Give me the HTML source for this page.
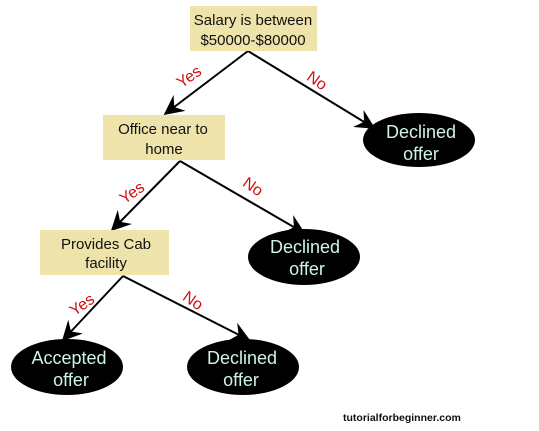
<!DOCTYPE html>
<html><head><style>
body{margin:0;background:#fff;}
svg{display:block;}
.b{font-family:"Liberation Sans",sans-serif;font-size:15px;fill:#111;}
.e{font-family:"Liberation Sans",sans-serif;font-size:18px;fill:#cdf3ea;}
.r{font-family:"Liberation Sans",sans-serif;font-size:16px;fill:#d01010;}
</style></head><body>
<svg width="539" height="431" viewBox="0 0 539 431">
<defs>
<marker id="m" viewBox="0 0 12 12" refX="11" refY="6" markerWidth="20" markerHeight="20" orient="auto" markerUnits="userSpaceOnUse"><path d="M0,0 L12,6 L0,12 L4,6 z" fill="#000"/></marker></defs>
<g stroke="#000" stroke-width="2" fill="none">
<line x1="248" y1="51" x2="165" y2="114" marker-end="url(#m)"/>
<line x1="248" y1="51" x2="374" y2="128" marker-end="url(#m)"/>
<line x1="180" y1="161" x2="112" y2="230" marker-end="url(#m)"/>
<line x1="180" y1="161" x2="304" y2="233" marker-end="url(#m)"/>
<line x1="123" y1="276" x2="63" y2="340" marker-end="url(#m)"/>
<line x1="123" y1="276" x2="249" y2="340" marker-end="url(#m)"/>
</g>
<rect x="190" y="6" width="127" height="45" fill="#efe3ac"/>
<text class="b" x="253" y="25" text-anchor="middle">Salary is between</text>
<text class="b" x="253" y="45" text-anchor="middle">$50000-$80000</text>
<rect x="103" y="115" width="122" height="45" fill="#efe3ac"/>
<text class="b" x="163" y="134" text-anchor="middle">Office near to</text>
<text class="b" x="164" y="154" text-anchor="middle">home</text>
<rect x="40" y="230" width="129" height="45" fill="#efe3ac"/>
<text class="b" x="106" y="249" text-anchor="middle">Provides Cab</text>
<text class="b" x="106" y="268" text-anchor="middle">facility</text>
<g fill="#000">
<ellipse cx="419" cy="140" rx="56" ry="27"/>
<ellipse cx="304" cy="257" rx="56" ry="28"/>
<ellipse cx="67" cy="367" rx="56" ry="28"/>
<ellipse cx="243" cy="367" rx="56" ry="28"/>
</g>
<text class="e" x="421" y="138" text-anchor="middle">Declined</text>
<text class="e" x="421" y="160" text-anchor="middle">offer</text>
<text class="e" x="305" y="253" text-anchor="middle">Declined</text>
<text class="e" x="307" y="275" text-anchor="middle">offer</text>
<text class="e" x="69" y="364" text-anchor="middle">Accepted</text>
<text class="e" x="71" y="386" text-anchor="middle">offer</text>
<text class="e" x="242" y="364" text-anchor="middle">Declined</text>
<text class="e" x="241" y="386" text-anchor="middle">offer</text>
<text class="r" transform="translate(192,81) rotate(-35)" text-anchor="middle">Yes</text>
<text class="r" transform="translate(314,85) rotate(35)" text-anchor="middle">No</text>
<text class="r" transform="translate(135,197) rotate(-35)" text-anchor="middle">Yes</text>
<text class="r" transform="translate(250,191) rotate(35)" text-anchor="middle">No</text>
<text class="r" transform="translate(85,309) rotate(-35)" text-anchor="middle">Yes</text>
<text class="r" transform="translate(190,305) rotate(35)" text-anchor="middle">No</text>
<text x="343" y="421" font-family="Liberation Sans,sans-serif" font-size="10.5" font-weight="bold" fill="#111">tutorialforbeginner.com</text>
</svg>
</body></html>
